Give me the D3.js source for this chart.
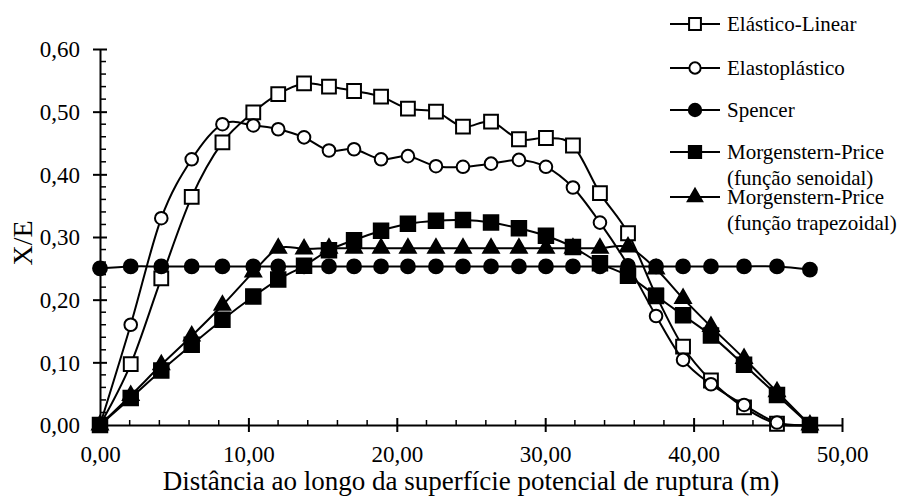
<!DOCTYPE html>
<html>
<head>
<meta charset="utf-8">
<script src="https://cdn.jsdelivr.net/npm/d3@7/dist/d3.min.js"></script>
<style>
  html, body { margin: 0; padding: 0; background: #fff; }
  svg { display: block; }
  svg text { font-family: "Liberation Serif", Tinos, "Times New Roman", Times, "DejaVu Serif", serif; }
</style>
</head>
<body>
<svg id="chart" width="900" height="500"></svg>
<script>
// ---- data ----
const distance = [0.00, 2.07, 4.13, 6.18, 8.25, 10.33, 12.01, 13.75, 15.43, 17.12, 18.94, 20.75, 22.64,
  24.46, 26.35, 28.23, 30.05, 31.87, 33.69, 35.58, 37.47, 39.29, 41.17, 43.40, 45.62, 47.84];

const elasticoLinear = [0.000, 0.097, 0.234, 0.364, 0.451, 0.499, 0.528, 0.545, 0.540, 0.533, 0.524, 0.505, 0.500,
  0.476, 0.484, 0.456, 0.458, 0.446, 0.370, 0.306, 0.207, 0.125, 0.071, 0.028, 0.002, 0.000];

const elastoplastico = [0.000, 0.160, 0.330, 0.424, 0.480, 0.478, 0.472, 0.459, 0.438, 0.440, 0.424, 0.429, 0.413,
  0.412, 0.417, 0.423, 0.412, 0.379, 0.323, 0.255, 0.174, 0.104, 0.065, 0.032, 0.004, 0.000];

const spencer = [0.250, 0.253, 0.253, 0.253, 0.253, 0.253, 0.253, 0.253, 0.253, 0.253, 0.253, 0.253, 0.253,
  0.253, 0.253, 0.253, 0.253, 0.253, 0.253, 0.253, 0.253, 0.253, 0.253, 0.253, 0.253, 0.248];

const mpSenoidal = [0.000, 0.043, 0.087, 0.128, 0.168, 0.205, 0.232, 0.254, 0.279, 0.295, 0.310, 0.321, 0.326,
  0.327, 0.323, 0.314, 0.302, 0.284, 0.258, 0.238, 0.206, 0.175, 0.143, 0.096, 0.048, 0.000];

const mpTrapezoidal = [0.000, 0.047, 0.096, 0.142, 0.191, 0.244, 0.282, 0.281, 0.282, 0.282, 0.282, 0.282, 0.282,
  0.282, 0.282, 0.282, 0.282, 0.282, 0.282, 0.284, 0.249, 0.202, 0.157, 0.106, 0.053, 0.000];

const seriesNames = ["Elástico-Linear", "Elastoplástico", "Spencer",
  "Morgenstern-Price\n(função senoidal)", "Morgenstern-Price\n(função trapezoidal)"];

const xTicks = [0, 10, 20, 30, 40, 50];
const yTicks = [0, 0.1, 0.2, 0.3, 0.4, 0.5, 0.6];
const xTitle = "Distância ao longo da superfície potencial de ruptura (m)";
const yTitle = "X/E";

// ---- layout ----
const FONT = "'Liberation Serif', Tinos, 'Times New Roman', Times, 'DejaVu Serif', serif";
const svg = d3.select("#chart");
const m = { left: 100, right: 842, top: 49, bottom: 425 };
const x = d3.scaleLinear().domain([0, 50]).range([m.left, m.right]);
const y = d3.scaleLinear().domain([0, 0.6]).range([m.bottom, m.top]);
const fmt = v => d3.format(".2f")(v).replace(".", ",");

const styles = [
  { symbol: d3.symbolSquare, size: 190, fill: "#fff" },
  { symbol: d3.symbolCircle, size: 125, fill: "#fff" },
  { symbol: d3.symbolCircle, size: 150, fill: "#000" },
  { symbol: d3.symbolSquare, size: 210, fill: "#000" },
  { symbol: d3.symbolTriangle, size: 105, fill: "#000" }
];
const legendSizes = [140, 100, 120, 150, 90];
const allSeries = [elasticoLinear, elastoplastico, spencer, mpSenoidal, mpTrapezoidal];

// ---- axes ----
const axisG = svg.append("g");
const xAxis = d3.axisBottom(x).tickValues(xTicks).tickSize(0).tickFormat(fmt).tickPadding(0);
const gx = axisG.append("g").attr("transform", `translate(0,${m.bottom})`).call(xAxis).attr("font-family", FONT);
gx.select(".domain").attr("stroke", "#000").attr("stroke-width", 2);
gx.selectAll(".tick text").attr("font-size", 23).attr("font-family", FONT).attr("fill", "#000").attr("dy", null).attr("y", 37);
gx.selectAll(".tick").append("line").attr("y1", -7).attr("y2", 7).attr("stroke", "#000").attr("stroke-width", 2);
gx.selectAll(".minor").data(d3.range(0, 50.01, 2).filter(v => v % 10 !== 0))
  .enter().append("line").attr("class", "minor")
  .attr("x1", d => x(d)).attr("x2", d => x(d)).attr("y1", 0).attr("y2", -5)
  .attr("stroke", "#000").attr("stroke-width", 1.5);

const yAxis = d3.axisLeft(y).tickValues(yTicks).tickSize(0).tickFormat(fmt).tickPadding(20);
const gy = axisG.append("g").attr("transform", `translate(${m.left},0)`).call(yAxis).attr("font-family", FONT);
gy.select(".domain").attr("stroke", "#000").attr("stroke-width", 2);
gy.selectAll(".tick text").attr("font-size", 23).attr("font-family", FONT).attr("fill", "#000").attr("dy", "0.34em");
gy.selectAll(".tick").append("line").attr("x1", -7).attr("x2", 7).attr("stroke", "#000").attr("stroke-width", 2);
gy.selectAll(".minor").data(d3.range(0, 0.6001, 0.02).filter((v, i) => i % 5 !== 0))
  .enter().append("line").attr("class", "minor")
  .attr("x1", 0).attr("x2", 6).attr("y1", d => y(d)).attr("y2", d => y(d))
  .attr("stroke", "#000").attr("stroke-width", 1.5);

svg.append("text").attr("x", (m.left + m.right) / 2).attr("y", 490).attr("font-family", FONT)
  .attr("text-anchor", "middle").attr("font-size", 27).text(xTitle);
svg.append("text").attr("transform", `translate(32,243) rotate(-90)`).attr("font-family", FONT)
  .attr("text-anchor", "middle").attr("font-size", 28).text(yTitle);

// ---- series ----
const line = d3.line().x((d, i) => x(distance[i])).y(d => y(d)).curve(d3.curveCardinal.tension(0));
allSeries.forEach((vals, k) => {
  const g = svg.append("g");
  g.append("path").datum(vals).attr("d", line).attr("fill", "none").attr("stroke", "#000").attr("stroke-width", 2);
  g.selectAll("path.mk").data(vals).enter().append("path").attr("class", "mk")
    .attr("transform", (d, i) => `translate(${x(distance[i])},${y(d)})`)
    .attr("d", d3.symbol().type(styles[k].symbol).size(styles[k].size))
    .attr("fill", styles[k].fill).attr("stroke", "#000").attr("stroke-width", 2);
});

// ---- legend ----
const legendRows = [24, 68, 110, 152, 197];
const lg = svg.append("g");
seriesNames.forEach((name, k) => {
  const yy = legendRows[k];
  lg.append("line").attr("x1", 670).attr("x2", 720).attr("y1", yy).attr("y2", yy).attr("stroke", "#000").attr("stroke-width", 2);
  lg.append("path").attr("transform", `translate(695,${yy})`)
    .attr("d", d3.symbol().type(styles[k].symbol).size(legendSizes[k]))
    .attr("fill", styles[k].fill).attr("stroke", "#000").attr("stroke-width", 2);
  const lines = name.split("\n");
  const t = lg.append("text").attr("x", 727).attr("y", yy + 7).attr("font-size", 21).attr("font-family", FONT);
  lines.forEach((ln, j) => t.append("tspan").attr("x", 727).attr("dy", j === 0 ? 0 : 26).text(ln));
});
</script>
</body>
</html>
